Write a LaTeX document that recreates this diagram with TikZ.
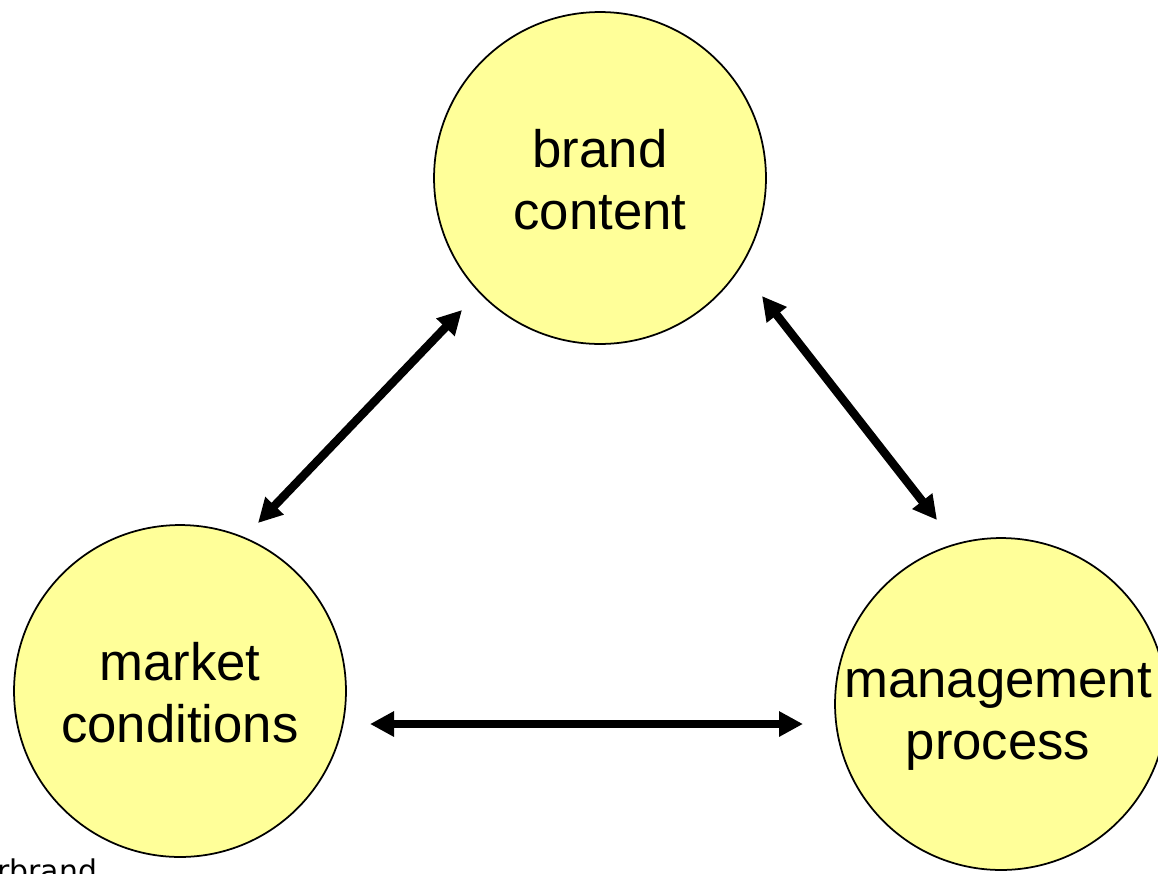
\documentclass[tikz,border=0pt]{standalone}
\usepackage{fontspec}
\setmainfont{Liberation Sans}
\newfontfamily\notefont{DejaVu Sans}
\usetikzlibrary{arrows.meta}
\definecolor{bubble}{HTML}{FFFF99}
\begin{document}
\begin{tikzpicture}[x=0.02cm,y=-0.02cm,
  topic/.style={circle,draw=black,line width=1pt,fill=bubble,minimum size=6.64cm,inner sep=0pt},
  caption/.style={align=center,inner sep=0pt,font=\fontsize{30}{35.2}\selectfont},
  link/.style={line width=4.8pt,{Triangle[length=0.48cm,width=0.48cm]}-{Triangle[length=0.48cm,width=0.48cm]}}]
\useasboundingbox (0,0) rectangle (1158,873);
% the three topic circles and their captions
\node[topic] (brand) at (600,178) {};
\node[topic] (market) at (180,691) {};
\node[topic] (mgmt) at (1001,704) {};
\node[caption] (brandtxt) at (600,180) {brand\\content};
\node[caption] (markettxt) at (180,693) {market\\conditions};
\node[caption] (mgmttxt) at (998,717) {management\\process};
% two-way links between the topics
\coordinate (l1) at (258,523); \coordinate (l2) at (462,310);
\coordinate (r1) at (762,296); \coordinate (r2) at (937,520);
\coordinate (h1) at (370,724); \coordinate (h2) at (803,724);
\draw[link] (l1) -- (l2);
\draw[link] (r1) -- (r2);
\draw[link] (h1) -- (h2);
\node[anchor=base west,inner sep=0pt,font=\notefont\fontsize{17}{20}\selectfont] (note) at (-3,881) {rbrand};
\end{tikzpicture}
\end{document}
